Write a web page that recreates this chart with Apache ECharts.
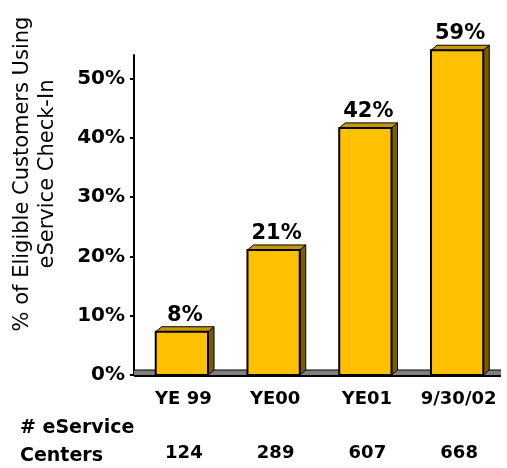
<!DOCTYPE html>
<html>
<head>
<meta charset="utf-8">
<script src="https://cdn.jsdelivr.net/npm/echarts@6/dist/echarts.min.js"></script>
<style>
html,body{margin:0;padding:0;background:#fff;}
#c{width:507px;height:468px;}
</style>
</head>
<body>
<div id="c"></div>
<script>
// Data
const categories = ['YE 99', 'YE00', 'YE01', '9/30/02'];
const barHeights = [7.3, 21.1, 41.7, 54.8];          // drawn bar heights (% on axis)
const barLabels = ['8%', '21%', '42%', '59%'];        // printed labels above bars
const serviceCenters = ['124', '289', '607', '668'];  // # eService Centers
const yTicks = [0, 10, 20, 30, 40, 50];

const chart = echarts.init(document.getElementById('c'), null, {renderer: 'canvas'});

const boldFont = 'DejaVu Sans, sans-serif';

chart.setOption({
  animation: false,
  backgroundColor: '#ffffff',
  grid: {left: 134, right: 6, top: 55, bottom: 93, containLabel: false},
  xAxis: [{
    type: 'category',
    data: categories,
    axisLine: {show: false},
    axisTick: {show: false},
    axisLabel: {
      interval: 0,
      hideOverlap: false,
      margin: 15,
      color: '#000',
      fontFamily: boldFont,
      fontWeight: 'bold',
      fontSize: 18,
      padding: [0, 0, 0, 7],
      formatter: function (v) { return v; }
    }
  }, {
    type: 'category',
    data: categories,
    position: 'bottom',
    offset: 56,
    axisLine: {show: false},
    axisTick: {show: false},
    axisLabel: {
      interval: 0,
      hideOverlap: false,
      margin: 13,
      color: '#000',
      fontFamily: boldFont,
      fontWeight: 'bold',
      fontSize: 18,
      padding: [0, 0, 0, 8],
      formatter: function (v, i) { return serviceCenters[i]; }
    }
  }],
  yAxis: {
    type: 'value',
    min: 0,
    max: 54,
    interval: 10,
    splitLine: {show: false},
    axisLine: {show: true, lineStyle: {color: '#000', width: 2}},
    axisTick: {show: true, length: 4, lineStyle: {color: '#000', width: 2}, customValues: yTicks},
    axisLabel: {
      customValues: yTicks,
      margin: 9,
      color: '#000',
      fontFamily: 'DejaVu Sans, sans-serif',
      fontWeight: 'bold',
      fontSize: 20,
      formatter: function (v) { return v + '%'; }
    }
  },
  graphic: [{
    type: 'text',
    x: 35,
    y: 174,
    rotation: Math.PI / 2,
    style: {
      text: '% of Eligible Customers Using\neService Check-In',
      fill: '#000',
      font: '21px DejaVu Sans, sans-serif',
      textAlign: 'center',
      textVerticalAlign: 'middle',
      lineHeight: 25
    }
  }, {
    type: 'text',
    x: 20,
    y: 414,
    style: {
      text: '# eService\nCenters',
      fill: '#000',
      font: 'bold 19px ' + boldFont,
      textAlign: 'left',
      lineHeight: 28
    }
  }],
  series: [{
    type: 'custom',
    xAxisIndex: 0,
    data: barHeights.map(function (v, i) { return [i, v]; }),
    renderItem: function (params, api) {
      const idx = api.value(0);
      const base = api.coord([idx, 0]);
      const top = api.coord([idx, api.value(1)]);
      const band = api.size([1, 0])[0];
      const fw = band * 0.57;
      const cx = base[0] + 2;
      const x0 = cx - fw / 2, x1 = cx + fw / 2;
      const y0 = base[1], yt = top[1];
      const dx = 6, dy = 5;
      const children = [];
      if (params.dataIndex === 0) {
        const bl = base[0] - band / 2;
        const br = bl + band * categories.length;
        children.push(
          {type: 'rect', shape: {x: bl, y: y0 - 5, width: br - bl, height: 6},
           style: {fill: '#808080'}},
          {type: 'line', shape: {x1: bl, y1: y0 - 5, x2: br, y2: y0 - 5},
           style: {stroke: '#000', lineWidth: 1}},
          {type: 'line', shape: {x1: bl, y1: y0 + 1, x2: br, y2: y0 + 1},
           style: {stroke: '#000', lineWidth: 2}}
        );
      }
      children.push(
        {type: 'polygon', shape: {points: [[x1, yt], [x1 + dx, yt - dy], [x1 + dx, y0 - dy], [x1, y0]]},
         style: {fill: '#7A5C00', stroke: '#000', lineWidth: 1}},
        {type: 'polygon', shape: {points: [[x0, yt], [x0 + dx, yt - dy], [x1 + dx, yt - dy], [x1, yt]]},
         style: {fill: '#C49A00', stroke: '#000', lineWidth: 1}},
        {type: 'rect', shape: {x: x0, y: yt, width: fw, height: y0 - yt},
         style: {fill: '#FFC000', stroke: '#000', lineWidth: 2}},
        {type: 'text', x: cx + dx / 2, y: yt - dy - 1,
         style: {text: barLabels[params.dataIndex], fill: '#000',
                 font: 'bold 21px DejaVu Sans, sans-serif',
                 textAlign: 'center', textVerticalAlign: 'bottom'}}
      );
      return {type: 'group', children: children};
    }
  }]
});
</script>
</body>
</html>
